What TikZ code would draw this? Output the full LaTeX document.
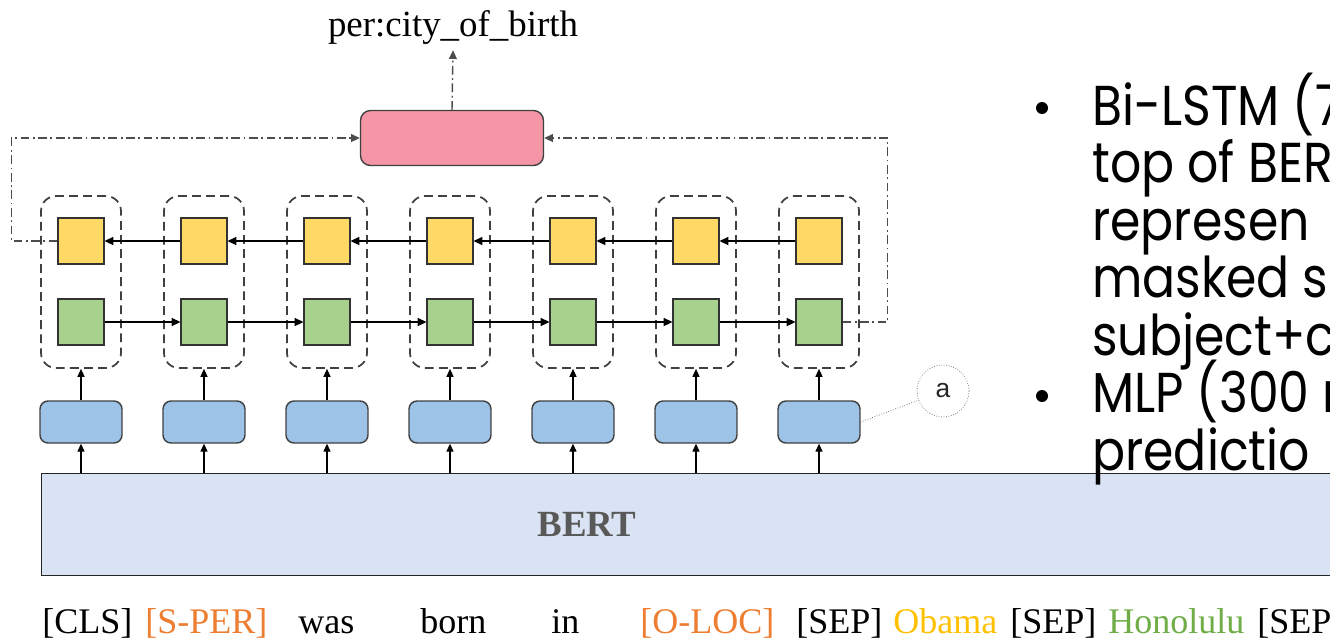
\documentclass[tikz,border=0pt]{standalone}
\usepackage{fontspec}
\setmainfont{Liberation Serif}
\newfontfamily\slidefont[FakeStretch=0.87]{Poppins}
\newfontfamily\labelfont{Liberation Sans}
\usetikzlibrary{positioning,arrows.meta,fit,calc}
\definecolor{lstmyellow}{RGB}{255,217,102}
\definecolor{lstmgreen}{RGB}{169,209,142}
\definecolor{embblue}{RGB}{157,195,230}
\definecolor{clfpink}{RGB}{244,150,165}
\definecolor{bertfill}{RGB}{218,227,243}
\definecolor{bertgray}{RGB}{89,89,89}
\definecolor{tokorange}{RGB}{237,125,49}
\definecolor{tokgold}{RGB}{255,192,0}
\definecolor{tokgreen}{RGB}{112,173,71}
\tikzset{
  cell/.style={draw=black!80, semithick, minimum width=0.92cm, minimum height=0.92cm, inner sep=0pt},
  bwcell/.style={cell, fill=lstmyellow},
  fwcell/.style={cell, fill=lstmgreen},
  wrap/.style={draw=black!75, line width=1pt, dash pattern=on 5pt off 3pt,
    rounded corners=0.3cm, minimum width=1.6cm, minimum height=3.44cm},
  emb/.style={draw=black!75, line width=0.8pt, rounded corners=0.16cm, fill=embblue,
    minimum width=1.64cm, minimum height=0.84cm},
  clf/.style={draw=black!75, line width=0.8pt, rounded corners=0.2cm, fill=clfpink,
    minimum width=3.66cm, minimum height=1.1cm},
  encoder/.style={draw=black!85, line width=0.8pt, fill=bertfill, anchor=north west,
    minimum width=26.5cm, minimum height=2.04cm},
  hlink/.style={-{Triangle[length=5pt,width=4.5pt]}, line width=1.1pt},
  uplink/.style={-{Triangle[length=4.5pt,width=4pt]}, line width=0.6pt},
  feedback/.style={-{Triangle[length=5pt,width=4.5pt]}, draw=black!70, line width=0.8pt,
    dash pattern=on 5pt off 2pt on 1pt off 2pt},
  callout/.style={circle, draw=black!60, densely dotted, minimum size=1.04cm, inner sep=0pt,
    font=\labelfont\fontsize{15}{17}\selectfont, text=black!85},
  tok/.style={anchor=base west, inner sep=0pt, font=\fontsize{20.5}{24}\selectfont},
  slidetext/.style={anchor=base west, inner sep=0pt, font=\slidefont\fontsize{32}{34}\selectfont},
  bullet/.style={circle, fill=black, minimum size=0.24cm, inner sep=0pt},
}
\begin{document}
\begin{tikzpicture}[x=0.02cm, y=-0.02cm]
  \useasboundingbox (0,0) rectangle (1330,643);
  \clip (0,0) rectangle (1330,643);
  % encoder
  \node[encoder] (bert) at (41,473) {};
  \node[font=\bfseries\fontsize{21}{24}\selectfont, text=bertgray] (bertlbl) at (587,524) {BERT};
  % columns
  \foreach \i in {1,...,7} {
    \node[wrap] (wr\i) at ({81+123*(\i-1)},282) {};
    \node[bwcell] (bw\i) at ({81+123*(\i-1)},241) {};
    \node[fwcell] (fw\i) at ({81+123*(\i-1)},322) {};
    \node[emb] (emb\i) at ({81+123*(\i-1)},422) {};
    \draw[uplink] (emb\i.south |- bert.north) -- (emb\i.south);
    \draw[uplink] (emb\i.north) -- (wr\i.south);
  }
  \foreach \i [evaluate=\i as \j using int(\i+1)] in {1,...,6} {
    \draw[hlink] (bw\j.west) -- (bw\i.east);
    \draw[hlink] (fw\i.east) -- (fw\j.west);
  }
  % classifier and relation
  \node[clf] (clf) at (452,138) {};
  \node[font=\fontsize{21}{24}\selectfont] (rel) at (453,27) {per:city\_of\_birth};
  \draw[feedback] (bw1.west) -- ++(-46,0) |- (clf.west);
  \draw[feedback] (fw7.east) -- ++(45,0) |- (clf.east);
  \draw[feedback] (clf.north) -- (rel.south);
  % annotation
  \node[callout] (ann) at (943,391) {a};
  \draw[densely dotted, black!60] (emb7.east) -- (ann);
  % input tokens
  \foreach \x/\t/\c [count=\k] in {42/{[CLS]}/black, 145/{[S-PER]}/tokorange, 298/was/black,
      420/born/black, 551/in/black, 640/{[O-LOC]}/tokorange, 796/{[SEP]}/black,
      893/Obama/tokgold, 1010/{[SEP]}/black, 1108/Honolulu/tokgreen, 1257/{[SEP}/black}
    \node[tok, text=\c] (tok\k) at (\x,633) {\t};
  % slide text
  \node[bullet] (bul1) at (1042,108) {};
  \node[bullet] (bul2) at (1042,396) {};
  \foreach \t [count=\k] in {Bi-LSTM (7, top of BER, represen, masked s, subject+c, MLP (300 r, predictio}
    \node[slidetext] (ln\k) at (1092,{125+57.5*(\k-1)}) {\t};
\end{tikzpicture}
\end{document}
